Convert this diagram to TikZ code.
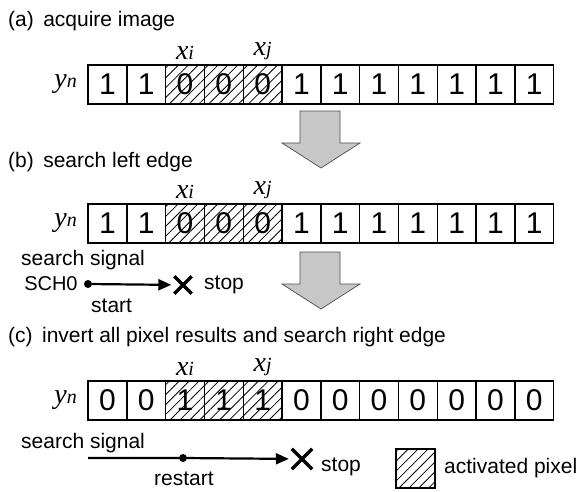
\documentclass[tikz,border=0pt]{standalone}
\usepackage{fontspec}
\setmainfont{Liberation Sans}
\newfontfamily\varfont{Liberation Serif}
\usetikzlibrary{arrows.meta, patterns.meta, shapes.misc, positioning}
\tikzset{
  pixel/.style={draw, line width=1.4pt, minimum width=38.8pt, minimum height=39pt,
    inner sep=0pt, outer sep=0pt, anchor=north west, font=\fontsize{30}{30}\selectfont},
  active/.style={pattern={Lines[angle=45, distance=7pt, line width=0.8pt]}},
  hatch/.code={\ifnum#1>2 \ifnum#1<6 \pgfkeysalso{active}\fi\fi},
  caption/.style={anchor=west, inner sep=0pt, font=\fontsize{21}{24}\selectfont},
  var/.style={inner sep=0pt, font=\fontsize{28}{28}\selectfont\varfont\itshape},
  bigarrow/.style={fill=black!22, draw=black!70, line width=0.7pt},
  signal/.style={line width=2.2pt, -{Triangle[length=13pt, width=11pt]}},
  stopmark/.style={cross out, draw, line width=3.4pt, inner sep=0pt, minimum size=#1},
  dot/.style={circle, fill, inner sep=0pt, minimum size=8pt},
}
\newcommand{\sub}[1]{{\fontsize{20}{20}\selectfont #1}}
% one row of twelve pixels: name, top edge, values
\newcommand{\pixelrow}[3]{%
  \foreach \v [count=\k] in {#3}
    \node[pixel, hatch=\k] (#1\k) at ({88+38.8*(\k-1)}, #2) {\v};
  \node[var, above=5pt of #13.north] (#1xi) {x\sub{i}};
  \node[var, above=5pt of #15.north] (#1xj) {x\sub{j}};
  \node[var, left=11pt of #11.west] (#1yn) {y\sub{n}};
}

\begin{document}
\begin{tikzpicture}[x=1pt, y=-1pt]
\useasboundingbox (0,0) rectangle (587,491);

% (a)
\node[caption] (capa) at (8,21) {(a)\hspace{0.45em}acquire image};
\pixelrow{a}{65}{1,1,0,0,0,1,1,1,1,1,1,1}

% (b)
\node[caption] (capb) at (8,162) {(b)\hspace{0.45em}search left edge};
\pixelrow{b}{204}{1,1,0,0,0,1,1,1,1,1,1,1}
\node[caption] (sigb) at (21,260) {search signal};
\node[dot] (dotb) at (88,284) {};
\node[caption, left=6pt of dotb, font=\fontsize{20}{24}\selectfont] (schb) {SCH\sub{0}};
\node[stopmark=14pt] (stopb) at (183,285) {};
\draw[signal, shorten >=3pt] (dotb) -- (stopb);
\node[caption] (stoptb) at (204,285) {stop};
\node[caption] (startb) at (91,306) {start};

% big arrows between the steps
\foreach \t in {111,252}
  \draw[bigarrow] (300,\t) -- (340,\t) -- (340,\t+32) -- (360,\t+32)
    -- (321,\t+57) -- (282,\t+32) -- (300,\t+32) -- cycle;

% (c)
\node[caption] (capc) at (8,337) {(c)\hspace{0.45em}invert all pixel results and search right edge};
\pixelrow{c}{381}{0,0,1,1,1,0,0,0,0,0,0,0}
\node[caption] (sigc) at (21,443) {search signal};
\coordinate (linec) at (88,458);
\node[dot] (dotc) at (183,458) {};
\node[stopmark=17pt] (stopc) at (302,459) {};
\draw[signal, shorten >=3pt] (linec) -- (dotc) -- (stopc);
\node[caption] (stoptc) at (321,467) {stop};
\node[caption] (restartc) at (154,479) {restart};

% legend
\node[pixel, active, minimum width=39pt] (legend) at (396,449) {};
\node[caption, right=9pt of legend] (legendt) {activated pixel};
\end{tikzpicture}
\end{document}
